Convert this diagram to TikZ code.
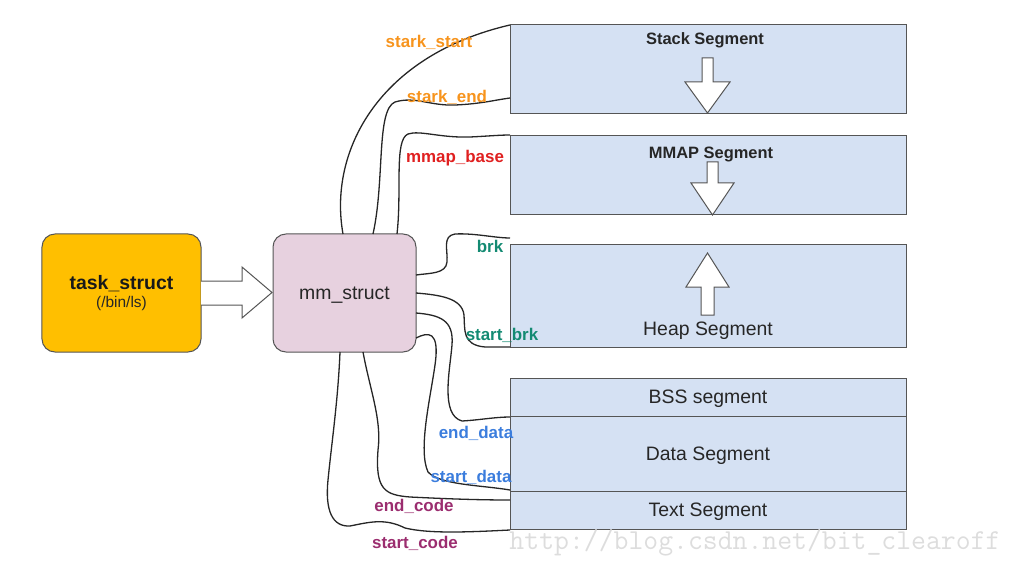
\documentclass[tikz,border=0pt]{standalone}
\usepackage{fontspec}
\setmainfont{Liberation Sans}
\definecolor{segfill}{HTML}{D5E1F3}
\definecolor{taskfill}{HTML}{FFBF00}
\definecolor{mmfill}{HTML}{E7D1DF}
\definecolor{edgegray}{HTML}{555555}
\definecolor{orangelbl}{HTML}{F7941D}
\definecolor{redlbl}{HTML}{E02020}
\definecolor{teallbl}{HTML}{138A72}
\definecolor{bluelbl}{HTML}{3B7DDD}
\definecolor{purplelbl}{HTML}{9B2D6F}
\definecolor{wmgray}{HTML}{DDDDDD}
\begin{document}
\begin{tikzpicture}[x=1bp,y=-1bp,
  segbox/.style={draw=edgegray,line width=1bp,fill=segfill,inner sep=0pt,minimum width=396bp,text depth=0pt},
  roundbox/.style={draw=edgegray,line width=1bp,rounded corners=13bp,inner sep=0pt,minimum width=#1},
  seglbl/.style={font=\fontsize{19.5}{22}\selectfont,text=black!85},
  segtitle/.style={font=\bfseries\fontsize{16.5}{19}\selectfont,text=black!85,yshift=-2bp},
  lbl/.style={font=\bfseries\fontsize{17}{19}\selectfont,yshift=-1bp},
  conn/.style={line width=1.3bp,black!85},
  blockarrow/.style={draw=edgegray,line width=1bp,fill=white,line join=miter}]
\useasboundingbox (0,0) rectangle (1033,576);
% main boxes
\node[roundbox=159bp,fill=taskfill,minimum height=118bp] (task) at (121.5,293) {};
\node[font=\bfseries\fontsize{19.5}{22}\selectfont,text=black!90] (tasklbl) at (121.5,284) {task\_struct};
\node[font=\fontsize{15.5}{18}\selectfont,text=black!85] (taskbin) at (121.5,304) {(/bin/ls)};
\node[roundbox=143bp,fill=mmfill,minimum height=118bp,font=\fontsize{19.5}{22}\selectfont,text=black!85,text depth=0pt] (mm) at (344.5,293) {mm\_struct};
% segments
\node[segbox,minimum height=89bp] (stack) at (708,69.5) {};
\node[segbox,minimum height=79bp] (mmap) at (708,175.5) {};
\node[segbox,minimum height=102bp] (heap) at (708,296) {};
\node[segbox,minimum height=38bp,seglbl] (bss) at (708,397) {BSS segment};
\node[segbox,minimum height=75bp,seglbl] (data) at (708,453.5) {Data Segment};
\node[segbox,minimum height=38bp,seglbl] (text) at (708,510) {Text Segment};
\node[segtitle] (stacklbl) at (705,38) {Stack Segment};
\node[segtitle] (mmaplbl) at (711,153) {MMAP Segment};
\node[seglbl,yshift=-2bp] (heaplbl) at (708,329) {Heap Segment};
% block arrows
\draw[blockarrow] (201,281) -- (242,281) -- (242,267) -- (272,292.5) -- (242,318) -- (242,305) -- (201,305);
\draw[blockarrow] (702,58) -- (713,58) -- (713,82) -- (730,82) -- (707.5,113) -- (685,82) -- (702,82) -- cycle;
\draw[blockarrow] (707,162) -- (718,162) -- (718,183) -- (734,183) -- (712.5,215) -- (691,183) -- (707,183) -- cycle;
\draw[blockarrow] (701,315) -- (714,315) -- (714,287) -- (729,287) -- (707.5,253) -- (686,287) -- (701,287) -- cycle;
% attach points
\coordinate (a1) at (343,234); \coordinate (b1) at (510,25);
\coordinate (a2) at (373,234); \coordinate (b2) at (510,98);
\coordinate (a3) at (397,234); \coordinate (b3) at (510,135);
\coordinate (a4) at (416,275); \coordinate (b4) at (510,238);
\coordinate (a5) at (416,293); \coordinate (b5) at (510,347);
\coordinate (a6) at (416,313); \coordinate (b6) at (510,417);
\coordinate (a7) at (416,338); \coordinate (b7) at (510,490);
\coordinate (a8) at (363,352); \coordinate (b8) at (510,500);
\coordinate (a9) at (340,352); \coordinate (b9) at (510,530);
% connectors
\draw[conn] (a1) .. controls (328,150) and (380,55) .. (b1);
\draw[conn] (a2) .. controls (385,180) and (376,110) .. (395,102) .. controls (415,96) and (430,106) .. (455,105) .. controls (480,104) and (495,100) .. (b2);
\draw[conn] (a3) .. controls (402,190) and (394,140) .. (408,134) .. controls (420,130) and (440,138) .. (470,137) .. controls (490,136) and (500,135) .. (b3);
\draw[conn] (a4) .. controls (430,273) and (446,274) .. (447,262) .. controls (448,250) and (442,236) .. (455,234) .. controls (475,233) and (495,238) .. (b4);
\draw[conn] (a5) .. controls (440,295) and (462,298) .. (464,315) .. controls (465,330) and (462,345) .. (485,347) -- (b5);
\draw[conn] (a6) .. controls (440,315) and (454,320) .. (452,345) .. controls (450,370) and (440,415) .. (462,421) .. controls (480,420) and (495,417) .. (b6);
\draw[conn] (a7) .. controls (428,332) and (440,330) .. (435,365) .. controls (430,400) and (418,450) .. (428,472) .. controls (440,485) and (480,485) .. (b7);
\draw[conn] (a8) .. controls (370,390) and (382,420) .. (378,450) .. controls (375,490) and (385,495) .. (410,497) .. controls (450,499) and (480,500) .. (b8);
\draw[conn] (a9) .. controls (338,400) and (332,440) .. (328,480) .. controls (325,510) and (332,527) .. (350,526) .. controls (370,522) and (385,518) .. (405,528) .. controls (430,534) and (470,532) .. (b9);
% labels
\node[lbl,text=orangelbl] (l1) at (429,41) {stark\_start};
\node[lbl,text=orangelbl] (l2) at (447,96) {stark\_end};
\node[lbl,text=redlbl] (l3) at (455,157) {mmap\_base};
\node[lbl,text=teallbl] (l4) at (490,245) {brk};
\node[lbl,text=teallbl] (l5) at (502,334) {start\_brk};
\node[lbl,text=bluelbl] (l6) at (476,432) {end\_data};
\node[lbl,text=bluelbl] (l7) at (471,476) {start\_data};
\node[lbl,text=purplelbl] (l8) at (414,505) {end\_code};
\node[lbl,text=purplelbl] (l9) at (415,542) {start\_code};
% watermark
\node[text=wmgray,font=\ttfamily\fontsize{29}{30}\selectfont] (wm) at (755,543) {http://blog.csdn.net/bit\_clearoff};
\end{tikzpicture}
\end{document}
